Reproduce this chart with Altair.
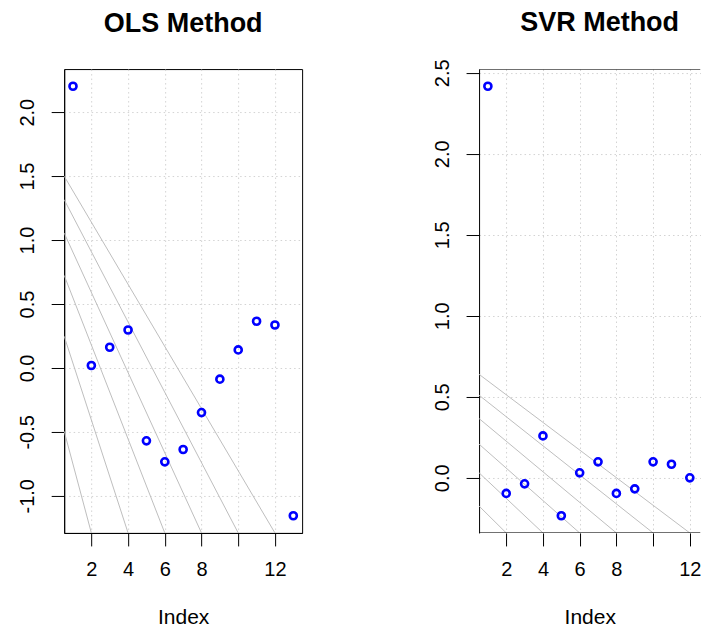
import altair as alt
import pandas as pd

# ---- data ----
index = list(range(1, 14))
ols_resid = [2.203, 0.019, 0.162, 0.297, -0.570, -0.734, -0.638, -0.349, -0.088, 0.141, 0.365, 0.336, -1.156]
svr_resid = [2.417, -0.096, -0.037, 0.259, -0.234, 0.031, 0.099, -0.096, -0.068, 0.099, 0.084, 0.000, -0.096]

# grey reference lines: value at the left edge, index where they meet the bottom edge
ols_line_start = [-0.495, 0.248, 0.724, 1.055, 1.316, 1.500]
svr_line_start = [-0.174, 0.031, 0.208, 0.366, 0.510, 0.639]
line_end_x = [2, 4, 6, 8, 10, 12]

x_ticks = [2, 4, 6, 8, 10, 12]
ols_y_ticks = [-1.0, -0.5, 0.0, 0.5, 1.0, 1.5, 2.0]
svr_y_ticks = [0.0, 0.5, 1.0, 1.5, 2.0, 2.5]

FONT = "Liberation Sans"
PLOT_H = 464
FULL_W = 238
RIGHT_W = 221.5


def r_range(vals):
    lo, hi = min(vals), max(vals)
    pad = 0.04 * (hi - lo)
    return [lo - pad, hi + pad]


def panel(title, resid, starts, yticks, width, title_offset, title_dx, framed):
    xfull = r_range(index)
    xdom = [xfull[0], xfull[0] + (xfull[1] - xfull[0]) * width / FULL_W]
    ydom = r_range(resid)
    xscale = alt.Scale(domain=xdom, nice=False, zero=False)
    yscale = alt.Scale(domain=ydom, nice=False, zero=False)
    xaxis = alt.Axis(
        values=x_ticks, title="Index", grid=True,
        labelExpr="datum.value == 10 ? '' : datum.label",
        labelBaseline="alphabetic", labelPadding=30, labelFlush=False, labelOverlap=False,
        titleY=91, titleBaseline="alphabetic",
        domain=framed,
    )
    yaxis = alt.Axis(
        values=yticks, title=None, grid=True,
        labelExpr="replace(format(datum.value, '.1f'), '\u2212', '-')",
        labelAngle=270, labelAlign="center", labelBaseline="alphabetic",
        labelPadding=18, labelFlush=False, labelOverlap=False,
    )
    df_pts = pd.DataFrame({"Index": index, "value": resid})
    df_lines = pd.DataFrame({
        "x": [xdom[0]] * len(starts), "y": starts,
        "x2": line_end_x, "y2": [ydom[0]] * len(starts),
    })
    lines = alt.Chart(df_lines).mark_rule(color="#bebebe", strokeWidth=1, clip=True).encode(
        x=alt.X("x:Q", scale=xscale, axis=xaxis),
        y=alt.Y("y:Q", scale=yscale, axis=yaxis),
        x2="x2:Q", y2="y2:Q",
    )
    points = alt.Chart(df_pts).mark_point(
        shape="circle", filled=False, color="#0000ff", size=50, strokeWidth=2.6,
        opacity=1, clip=True,
    ).encode(
        x=alt.X("Index:Q", scale=xscale, axis=xaxis),
        y=alt.Y("value:Q", scale=yscale, axis=yaxis),
    )
    layers = [lines, points]
    if not framed:
        # top and bottom edges of the box (the right side is cut off in the reference)
        edges = alt.Chart(pd.DataFrame({"y": ydom})).mark_rule(
            color="black", strokeWidth=1, clip=True
        ).encode(y=alt.Y("y:Q", scale=yscale, axis=yaxis))
        layers.append(edges)
    ch = alt.layer(*layers).properties(
        width=width, height=PLOT_H,
        title=alt.TitleParams(
            title, font=FONT, fontSize=27, fontWeight="bold", anchor="middle",
            frame="group", baseline="alphabetic", offset=title_offset, dx=title_dx,
            color="black",
        ),
    )
    if not framed:
        ch = ch.properties(view=alt.ViewBackground(stroke="transparent"))
    return ch


left = panel("OLS Method", ols_resid, ols_line_start, ols_y_ticks, FULL_W, 10.5, 0, True)
right = panel("SVR Method", svr_resid, svr_line_start, svr_y_ticks, RIGHT_W, 0.5,
              (FULL_W - RIGHT_W) / 2 + 1.6, False)

chart = alt.hconcat(left, right, spacing=177, bounds="flush").properties(
    padding={"left": 8.2, "top": 0, "right": -1, "bottom": 0}
).configure_view(
    stroke="black", strokeWidth=1
).configure_axis(
    labelFont=FONT, labelFontSize=20, labelColor="black",
    tickColor="black", tickSize=13, tickWidth=1,
    domainColor="black", domainWidth=1,
    gridColor="#d3d3d3", gridDash=[1.5, 3], gridWidth=1,
    titleFont=FONT, titleFontSize=21, titleFontWeight="normal", titleColor="black",
)

chart.save("out.html", embed_options={"renderer": "svg", "actions": False})
